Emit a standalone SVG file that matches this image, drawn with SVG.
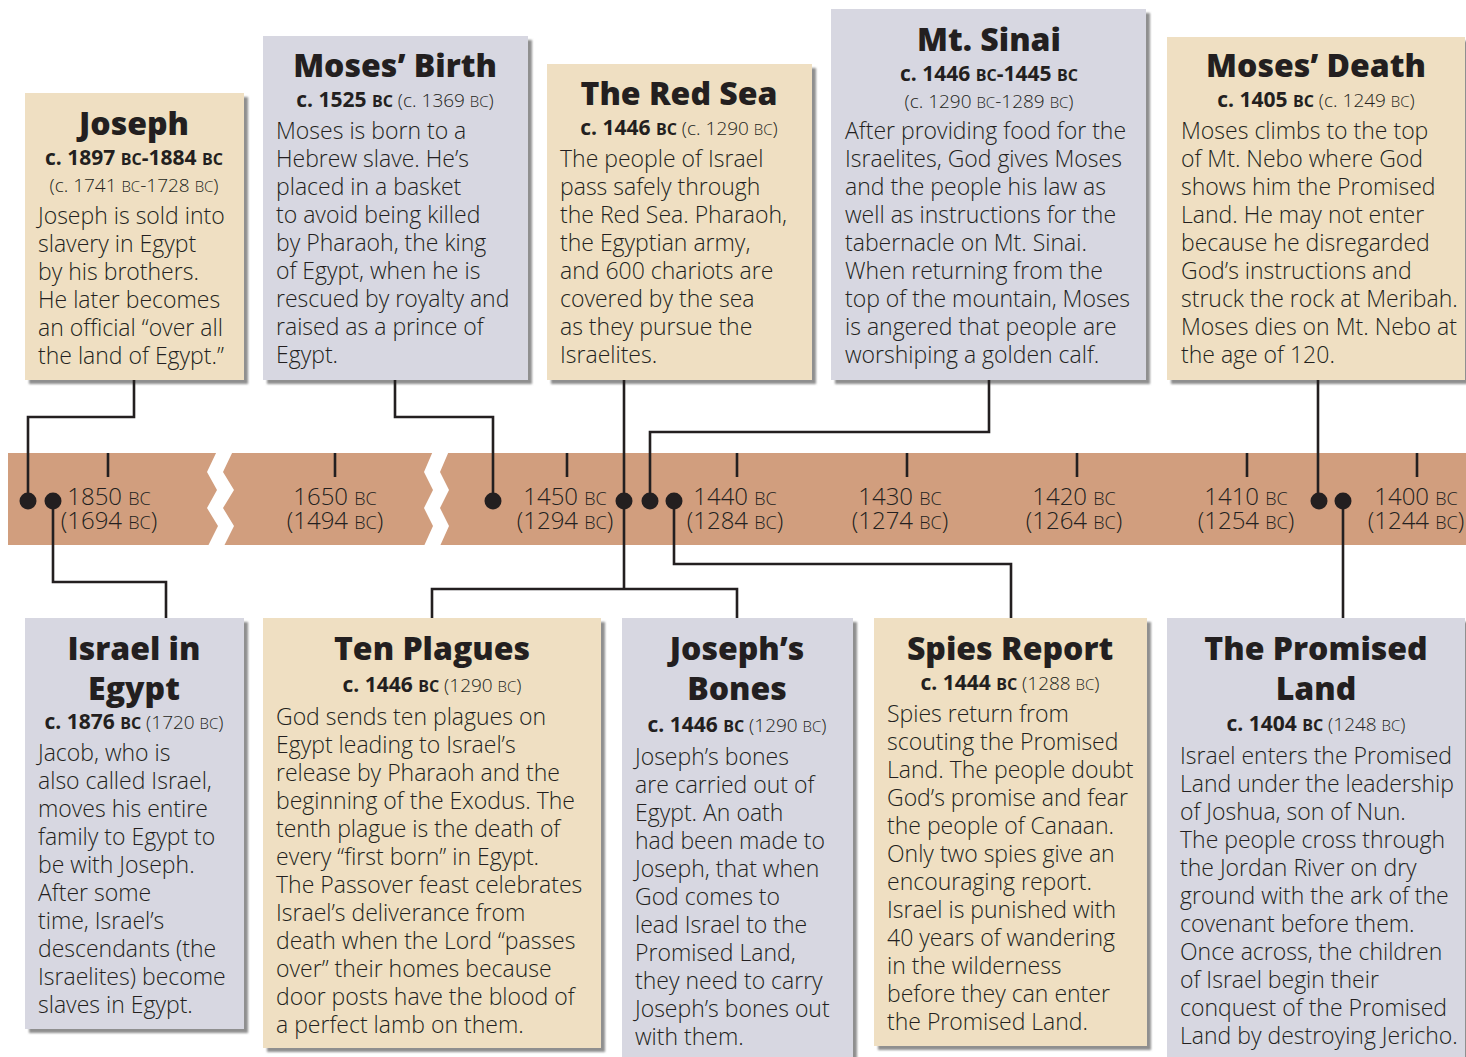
<svg xmlns="http://www.w3.org/2000/svg" width="1466" height="1057" viewBox="0 0 1466 1057">
<style>
text{font-family:"Open Sans","Liberation Sans",sans-serif;fill:#231f20}
.title{font-size:32px;font-weight:800;text-anchor:middle}
.date{text-anchor:middle}
.db{font-size:21px;font-weight:700}
.dl{font-size:19px;font-weight:300}
.sc{font-size:15px}
.sc2{font-size:16px}
.body{font-size:23px;font-weight:300}
.tl{font-size:24px;font-weight:300;text-anchor:middle}
.tsc{font-size:18px}
.beige{fill:#efdfc2}
.gray{fill:#d7d7e1}
.shadow{fill:#8f8f8f;filter:url(#blur)}
.conn{fill:none;stroke:#231f20;stroke-width:2.6}
.tick{stroke:#231f20;stroke-width:2.6}
.dot{fill:#231f20}
</style>
<defs>
<filter id="blur" x="-5%" y="-5%" width="110%" height="110%"><feGaussianBlur stdDeviation="1"/></filter>
</defs>
<rect width="1466" height="1057" fill="#ffffff"/>

<g id="timeline">
<rect x="8" y="453" width="1458" height="92" fill="#d19e7e"/>
<polygon fill="#ffffff" points="217,451 207,472 217,490 207,508 218,526 208,546 224,546 234,526 223,508 234,490 223,472 233,451"/>
<polygon fill="#ffffff" points="433,451 424,472 433,490 424,508 433,526 424,546 440,546 449,526 440,508 449,490 440,472 449,451"/>
<line class="tick" x1="108" y1="453" x2="108" y2="477"/>
<line class="tick" x1="335" y1="453" x2="335" y2="477"/>
<line class="tick" x1="567" y1="453" x2="567" y2="477"/>
<line class="tick" x1="737" y1="453" x2="737" y2="477"/>
<line class="tick" x1="907" y1="453" x2="907" y2="477"/>
<line class="tick" x1="1077" y1="453" x2="1077" y2="477"/>
<line class="tick" x1="1247" y1="453" x2="1247" y2="477"/>
<line class="tick" x1="1417" y1="453" x2="1417" y2="477"/>
<text class="tl" x="109" y="505">1850 <tspan class="tsc">BC</tspan></text>
<text class="tl" x="109" y="529">(1694 <tspan class="tsc">BC</tspan>)</text>
<text class="tl" x="335" y="505">1650 <tspan class="tsc">BC</tspan></text>
<text class="tl" x="335" y="529">(1494 <tspan class="tsc">BC</tspan>)</text>
<text class="tl" x="565" y="505">1450 <tspan class="tsc">BC</tspan></text>
<text class="tl" x="565" y="529">(1294 <tspan class="tsc">BC</tspan>)</text>
<text class="tl" x="735" y="505">1440 <tspan class="tsc">BC</tspan></text>
<text class="tl" x="735" y="529">(1284 <tspan class="tsc">BC</tspan>)</text>
<text class="tl" x="900" y="505">1430 <tspan class="tsc">BC</tspan></text>
<text class="tl" x="900" y="529">(1274 <tspan class="tsc">BC</tspan>)</text>
<text class="tl" x="1074" y="505">1420 <tspan class="tsc">BC</tspan></text>
<text class="tl" x="1074" y="529">(1264 <tspan class="tsc">BC</tspan>)</text>
<text class="tl" x="1246" y="505">1410 <tspan class="tsc">BC</tspan></text>
<text class="tl" x="1246" y="529">(1254 <tspan class="tsc">BC</tspan>)</text>
<text class="tl" x="1416" y="505">1400 <tspan class="tsc">BC</tspan></text>
<text class="tl" x="1416" y="529">(1244 <tspan class="tsc">BC</tspan>)</text>
</g>

<g id="node-joseph">
<rect class="shadow" x="29" y="97" width="219" height="287"/>
<rect class="beige" x="25" y="93" width="219" height="287"/>
<text class="title" x="134" y="135">Joseph</text>
<text class="date db" x="134" y="165">c. 1897 <tspan class="sc2">BC</tspan>-1884 <tspan class="sc2">BC</tspan></text>
<text class="date dl" x="134" y="192">(c. 1741 <tspan class="sc">BC</tspan>-1728 <tspan class="sc">BC</tspan>)</text>
<text class="body"><tspan x="38" y="224">Joseph is sold into</tspan><tspan x="38" y="252">slavery in Egypt</tspan><tspan x="38" y="280">by his brothers.</tspan><tspan x="38" y="308">He later becomes</tspan><tspan x="38" y="336">an official “over all</tspan><tspan x="38" y="364">the land of Egypt.”</tspan></text>
</g>

<g id="node-moses-birth">
<rect class="shadow" x="267" y="40" width="265" height="344"/>
<rect class="gray" x="263" y="36" width="265" height="344"/>
<text class="title" x="395" y="77">Moses’ Birth</text>
<text class="date" x="395" y="107"><tspan class="db">c. 1525 <tspan class="sc2">BC</tspan></tspan><tspan class="dl"> (c. 1369 <tspan class="sc">BC</tspan>)</tspan></text>
<text class="body"><tspan x="276" y="139">Moses is born to a</tspan><tspan x="276" y="167">Hebrew slave. He’s</tspan><tspan x="276" y="195">placed in a basket</tspan><tspan x="276" y="223">to avoid being killed</tspan><tspan x="276" y="251">by Pharaoh, the king</tspan><tspan x="276" y="279">of Egypt, when he is</tspan><tspan x="276" y="307">rescued by royalty and</tspan><tspan x="276" y="335">raised as a prince of</tspan><tspan x="276" y="363">Egypt.</tspan></text>
</g>

<g id="node-red-sea">
<rect class="shadow" x="551" y="68" width="265" height="316"/>
<rect class="beige" x="547" y="64" width="265" height="316"/>
<text class="title" x="679" y="105">The Red Sea</text>
<text class="date" x="679" y="135"><tspan class="db">c. 1446 <tspan class="sc2">BC</tspan></tspan><tspan class="dl"> (c. 1290 <tspan class="sc">BC</tspan>)</tspan></text>
<text class="body"><tspan x="560" y="167">The people of Israel</tspan><tspan x="560" y="195">pass safely through</tspan><tspan x="560" y="223">the Red Sea. Pharaoh,</tspan><tspan x="560" y="251">the Egyptian army,</tspan><tspan x="560" y="279">and 600 chariots are</tspan><tspan x="560" y="307">covered by the sea</tspan><tspan x="560" y="335">as they pursue the</tspan><tspan x="560" y="363">Israelites.</tspan></text>
</g>

<g id="node-mt-sinai">
<rect class="shadow" x="835" y="13" width="315" height="371"/>
<rect class="gray" x="831" y="9" width="315" height="371"/>
<text class="title" x="989" y="51">Mt. Sinai</text>
<text class="date db" x="989" y="81">c. 1446 <tspan class="sc2">BC</tspan>-1445 <tspan class="sc2">BC</tspan></text>
<text class="date dl" x="989" y="108">(c. 1290 <tspan class="sc">BC</tspan>-1289 <tspan class="sc">BC</tspan>)</text>
<text class="body"><tspan x="845" y="139">After providing food for the</tspan><tspan x="845" y="167">Israelites, God gives Moses</tspan><tspan x="845" y="195">and the people his law as</tspan><tspan x="845" y="223">well as instructions for the</tspan><tspan x="845" y="251">tabernacle on Mt. Sinai.</tspan><tspan x="845" y="279">When returning from the</tspan><tspan x="845" y="307">top of the mountain, Moses</tspan><tspan x="845" y="335">is angered that people are</tspan><tspan x="845" y="363">worshiping a golden calf.</tspan></text>
</g>

<g id="node-moses-death">
<rect class="shadow" x="1171" y="41" width="298" height="343"/>
<rect class="beige" x="1167" y="37" width="298" height="343"/>
<text class="title" x="1316" y="77">Moses’ Death</text>
<text class="date" x="1316" y="107"><tspan class="db">c. 1405 <tspan class="sc2">BC</tspan></tspan><tspan class="dl"> (c. 1249 <tspan class="sc">BC</tspan>)</tspan></text>
<text class="body"><tspan x="1181" y="139">Moses climbs to the top</tspan><tspan x="1181" y="167">of Mt. Nebo where God</tspan><tspan x="1181" y="195">shows him the Promised</tspan><tspan x="1181" y="223">Land. He may not enter</tspan><tspan x="1181" y="251">because he disregarded</tspan><tspan x="1181" y="279">God’s instructions and</tspan><tspan x="1181" y="307">struck the rock at Meribah.</tspan><tspan x="1181" y="335">Moses dies on Mt. Nebo at</tspan><tspan x="1181" y="363">the age of 120.</tspan></text>
</g>

<g id="node-israel-in-egypt">
<rect class="shadow" x="29" y="622" width="219" height="411"/>
<rect class="gray" x="25" y="618" width="219" height="411"/>
<text class="title"><tspan x="134" y="660">Israel in</tspan><tspan x="134" y="700">Egypt</tspan></text>
<text class="date" x="134" y="729"><tspan class="db">c. 1876 <tspan class="sc2">BC</tspan></tspan><tspan class="dl"> (1720 <tspan class="sc">BC</tspan>)</tspan></text>
<text class="body"><tspan x="38" y="761">Jacob, who is</tspan><tspan x="38" y="789">also called Israel,</tspan><tspan x="38" y="817">moves his entire</tspan><tspan x="38" y="845">family to Egypt to</tspan><tspan x="38" y="873">be with Joseph.</tspan><tspan x="38" y="901">After some</tspan><tspan x="38" y="929">time, Israel’s</tspan><tspan x="38" y="957">descendants (the</tspan><tspan x="38" y="985">Israelites) become</tspan><tspan x="38" y="1013">slaves in Egypt.</tspan></text>
</g>

<g id="node-ten-plagues">
<rect class="shadow" x="267" y="622" width="338" height="430"/>
<rect class="beige" x="263" y="618" width="338" height="430"/>
<text class="title" x="432" y="660">Ten Plagues</text>
<text class="date" x="432" y="692"><tspan class="db">c. 1446 <tspan class="sc2">BC</tspan></tspan><tspan class="dl"> (1290 <tspan class="sc">BC</tspan>)</tspan></text>
<text class="body"><tspan x="276" y="725">God sends ten plagues on</tspan><tspan x="276" y="753">Egypt leading to Israel’s</tspan><tspan x="276" y="781">release by Pharaoh and the</tspan><tspan x="276" y="809">beginning of the Exodus. The</tspan><tspan x="276" y="837">tenth plague is the death of</tspan><tspan x="276" y="865">every “first born” in Egypt.</tspan><tspan x="276" y="893">The Passover feast celebrates</tspan><tspan x="276" y="921">Israel’s deliverance from</tspan><tspan x="276" y="949">death when  the Lord “passes</tspan><tspan x="276" y="977">over” their homes because</tspan><tspan x="276" y="1005">door posts have the blood of</tspan><tspan x="276" y="1033">a perfect lamb on them.</tspan></text>
</g>

<g id="node-josephs-bones">
<rect class="shadow" x="626" y="622" width="231" height="440"/>
<rect class="gray" x="622" y="618" width="231" height="440"/>
<text class="title"><tspan x="737" y="660">Joseph’s</tspan><tspan x="737" y="700">Bones</tspan></text>
<text class="date" x="737" y="732"><tspan class="db">c. 1446 <tspan class="sc2">BC</tspan></tspan><tspan class="dl"> (1290 <tspan class="sc">BC</tspan>)</tspan></text>
<text class="body"><tspan x="635" y="765">Joseph’s bones</tspan><tspan x="635" y="793">are carried out of</tspan><tspan x="635" y="821">Egypt. An oath</tspan><tspan x="635" y="849">had been made to</tspan><tspan x="635" y="877">Joseph, that when</tspan><tspan x="635" y="905">God comes to</tspan><tspan x="635" y="933">lead Israel to the</tspan><tspan x="635" y="961">Promised Land,</tspan><tspan x="635" y="989">they need to carry</tspan><tspan x="635" y="1017">Joseph’s bones out</tspan><tspan x="635" y="1045">with them.</tspan></text>
</g>

<g id="node-spies-report">
<rect class="shadow" x="878" y="622" width="273" height="428"/>
<rect class="beige" x="874" y="618" width="273" height="428"/>
<text class="title" x="1010" y="660">Spies Report</text>
<text class="date" x="1010" y="690"><tspan class="db">c. 1444 <tspan class="sc2">BC</tspan></tspan><tspan class="dl"> (1288 <tspan class="sc">BC</tspan>)</tspan></text>
<text class="body"><tspan x="887" y="722">Spies return from</tspan><tspan x="887" y="750">scouting the Promised</tspan><tspan x="887" y="778">Land. The people doubt</tspan><tspan x="887" y="806">God’s promise and fear</tspan><tspan x="887" y="834">the people of Canaan.</tspan><tspan x="887" y="862">Only two spies give an</tspan><tspan x="887" y="890">encouraging report.</tspan><tspan x="887" y="918">Israel is punished with</tspan><tspan x="887" y="946">40 years of wandering</tspan><tspan x="887" y="974">in the wilderness</tspan><tspan x="887" y="1002">before they can enter</tspan><tspan x="887" y="1030">the Promised Land.</tspan></text>
</g>

<g id="node-promised-land">
<rect class="shadow" x="1171" y="622" width="298" height="440"/>
<rect class="gray" x="1167" y="618" width="298" height="440"/>
<text class="title"><tspan x="1316" y="660">The Promised</tspan><tspan x="1316" y="700">Land</tspan></text>
<text class="date" x="1316" y="731"><tspan class="db">c. 1404 <tspan class="sc2">BC</tspan></tspan><tspan class="dl"> (1248 <tspan class="sc">BC</tspan>)</tspan></text>
<text class="body"><tspan x="1180" y="764">Israel enters the Promised</tspan><tspan x="1180" y="792">Land under the leadership</tspan><tspan x="1180" y="820">of Joshua, son of Nun.</tspan><tspan x="1180" y="848">The people cross through</tspan><tspan x="1180" y="876">the Jordan River on dry</tspan><tspan x="1180" y="904">ground with the ark of the</tspan><tspan x="1180" y="932">covenant before them.</tspan><tspan x="1180" y="960">Once across, the children</tspan><tspan x="1180" y="988">of Israel begin their</tspan><tspan x="1180" y="1016">conquest of the Promised</tspan><tspan x="1180" y="1044">Land by destroying Jericho.</tspan></text>
</g>

<g id="connectors">
<polyline class="conn" points="134,380 134,417 28,417 28,501"/>
<polyline class="conn" points="395,380 395,417 493,417 493,501"/>
<polyline class="conn" points="624,380 624,589"/>
<polyline class="conn" points="432,618 432,589 737,589 737,618"/>
<polyline class="conn" points="989,380 989,432 650,432 650,501"/>
<polyline class="conn" points="674,501 674,564 1011,564 1011,618"/>
<polyline class="conn" points="53,501 53,582 166,582 166,618"/>
<polyline class="conn" points="1318,380 1318,501"/>
<polyline class="conn" points="1343,501 1343,618"/>
<circle class="dot" cx="28" cy="501" r="8.5"/>
<circle class="dot" cx="53" cy="501" r="8.5"/>
<circle class="dot" cx="493" cy="501" r="8.5"/>
<circle class="dot" cx="624" cy="501" r="8.5"/>
<circle class="dot" cx="650" cy="501" r="8.5"/>
<circle class="dot" cx="674" cy="501" r="8.5"/>
<circle class="dot" cx="1319" cy="501" r="8.5"/>
<circle class="dot" cx="1343" cy="501" r="8.5"/>
</g>
</svg>
